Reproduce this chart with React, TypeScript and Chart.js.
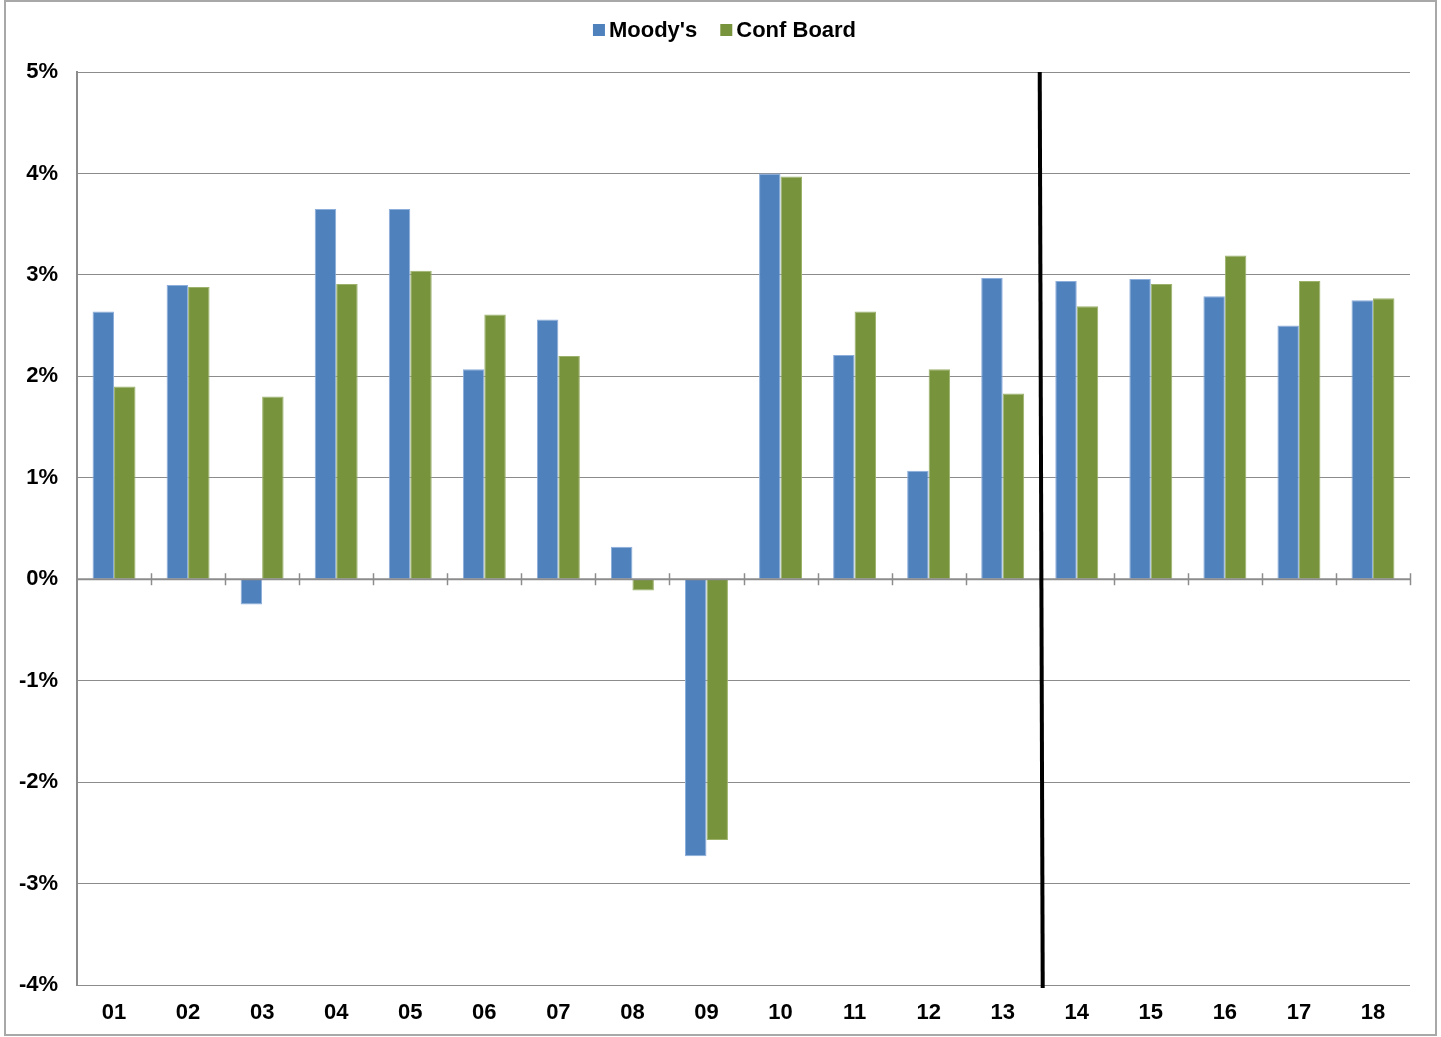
import React, { useEffect, useRef } from "react";
import { Chart, registerables } from "chart.js";

Chart.register(...registerables);

const categories = ["01", "02", "03", "04", "05", "06", "07", "08", "09", "10", "11", "12", "13", "14", "15", "16", "17", "18"];
const moodys = [2.64, 2.9, -0.25, 3.65, 3.65, 2.07, 2.56, 0.32, -2.73, 4.0, 2.21, 1.07, 2.97, 2.94, 2.96, 2.79, 2.5, 2.75];
const confBoard = [1.9, 2.88, 1.8, 2.91, 3.04, 2.61, 2.2, -0.11, -2.57, 3.97, 2.64, 2.07, 1.83, 2.69, 2.91, 3.19, 2.94, 2.77];
const seriesNames = ["Moody's", "Conf Board"];
const seriesColors = ["#4F81BD", "#77933C"];
const yTicks = [-4, -3, -2, -1, 0, 1, 2, 3, 4, 5];
const dividerAfterIndex = 12; // vertical line between "13" and "14"

const FONT = "'Liberation Sans', Arial, sans-serif";
const GRID = "#8c8c8c";

const extras = {
  id: "extras",
  beforeDraw(chart: any) {
    const c = chart.ctx;
    c.save();
    c.fillStyle = "#ffffff";
    c.fillRect(0, 0, chart.width, chart.height);
    c.strokeStyle = "#a8a8a8";
    c.lineWidth = 2;
    c.strokeRect(5, 1, chart.width - 10, chart.height - 3);
    c.restore();
  },
  afterDraw(chart: any) {
    // legend
    const c = chart.ctx;
    c.save();
    c.font = `bold 22px ${FONT}`;
    c.textBaseline = "middle";
    const box = 12;
    const gapText = 4;
    const gapItem = 23;
    const widths = seriesNames.map((n) => c.measureText(n).width);
    const total = widths.reduce((s, w) => s + box + gapText + w, 0) + gapItem * (seriesNames.length - 1);
    let x = chart.width / 2 + 4 - total / 2;
    const cy = 30;
    seriesNames.forEach((n, i) => {
      c.fillStyle = seriesColors[i];
      c.fillRect(x, cy - box / 2, box, box);
      c.fillStyle = "#000";
      c.fillText(n, x + box + gapText, cy + 1);
      x += box + gapText + widths[i] + gapItem;
    });
    c.restore();
  },
  afterDatasetsDraw(chart: any) {
    const c = chart.ctx;
    const x = chart.scales.x;
    const y = chart.scales.y;
    const a = chart.chartArea;
    const y0 = y.getPixelForValue(0);
    const step = (a.right - a.left) / categories.length;
    c.save();
    c.strokeStyle = GRID;
    c.lineWidth = 2;
    c.beginPath();
    c.moveTo(a.left, y0);
    c.lineTo(a.right, y0);
    c.stroke();
    c.lineWidth = 1.5;
    for (let i = 1; i <= categories.length; i++) {
      const px = Math.round(a.left + i * step) + 0.5;
      c.beginPath();
      c.moveTo(px, y0 - 6);
      c.lineTo(px, y0 + 6);
      c.stroke();
    }
    const bx = (x.getPixelForValue(dividerAfterIndex) + x.getPixelForValue(dividerAfterIndex + 1)) / 2;
    c.strokeStyle = "#000000";
    c.lineWidth = 4;
    c.beginPath();
    c.moveTo(bx, a.top);
    c.lineTo(bx + 3, a.bottom + 3);
    c.stroke();
    c.restore();
  },
};

export default function App() {
  const ref = useRef<HTMLCanvasElement>(null);
  useEffect(() => {
    const chart = new Chart(ref.current as HTMLCanvasElement, {
      type: "bar",
      data: {
        labels: categories,
        datasets: [
          {
            label: seriesNames[0],
            data: moodys,
            backgroundColor: seriesColors[0],
            borderColor: "#8DAEDB",
            borderWidth: 1,
            categoryPercentage: 0.58,
            barPercentage: 1,
          },
          {
            label: seriesNames[1],
            data: confBoard,
            backgroundColor: seriesColors[1],
            borderColor: "#9CB26B",
            borderWidth: 1,
            categoryPercentage: 0.58,
            barPercentage: 1,
          },
        ],
      },
      options: {
        responsive: false,
        animation: false,
        devicePixelRatio: 1,
        layout: { padding: { top: 72, right: 31, left: 0, bottom: 0 } },
        plugins: {
          legend: { display: false },
          tooltip: { enabled: false },
        },
        scales: {
          x: {
            grid: { display: false, drawTicks: false },
            border: { display: false },
            ticks: {
              color: "#000",
              padding: 15,
              font: { family: FONT, size: 22, weight: "bold" },
            },
            afterFit: (s: any) => {
              s.height = 52;
            },
          },
          y: {
            min: -4,
            max: 5,
            afterBuildTicks: (s: any) => {
              s.ticks = yTicks.map((v) => ({ value: v }));
            },
            grid: { color: GRID, lineWidth: 1, drawTicks: false },
            border: { display: true, color: GRID, width: 2 },
            ticks: {
              color: "#000",
              padding: 19,
              font: { family: FONT, size: 22, weight: "bold" },
              callback: (v: any) => `${v}%`,
            },
            afterFit: (s: any) => {
              s.width = 77;
            },
          },
        },
      },
      plugins: [extras],
    } as any);
    return () => chart.destroy();
  }, []);
  return (
    <div style={{ position: "absolute", left: 0, top: 0, width: 1441, height: 1037 }}>
      <canvas ref={ref} width={1441} height={1037} />
    </div>
  );
}
